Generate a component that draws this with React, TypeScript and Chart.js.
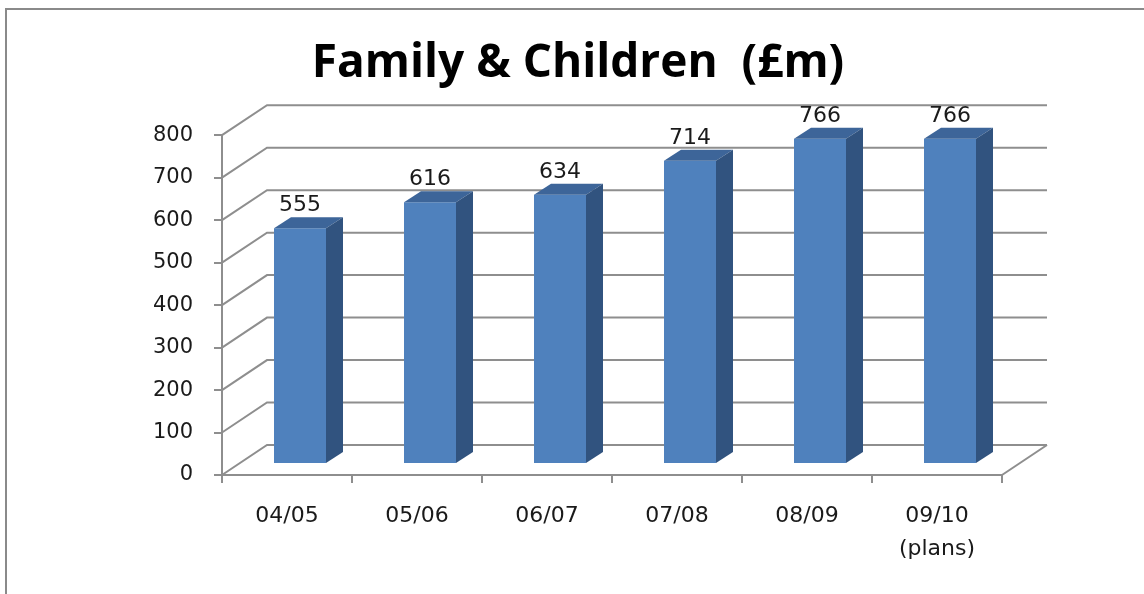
import React, { useEffect, useRef } from "react";
import { Chart, registerables } from "chart.js";

Chart.register(...registerables);

// ---- data ----
const categories: string[][] = [["04/05"], ["05/06"], ["06/07"], ["07/08"], ["08/09"], ["09/10", "(plans)"]];
const values: number[] = [555, 616, 634, 714, 766, 766];
const yMin = 0;
const yMax = 800;
const yStep = 100;
const titleText = "Family & Children  (£m)";

// ---- styles ----
const GRID = "#8e8e8e";
const TEXT = "#1a1a1a";
const BAR_FRONT = "#4f81bd";
const BAR_TOP = "#3d6599";
const BAR_SIDE = "#31537f";
const WALL_DX = 45;
const WALL_DY = -30;
const BAR_DX = 13;
const BAR_DY = -11;
const DEPTH_DX = 17;
const DEPTH_DY = -11;

const threeD = {
  id: "threeD",
  beforeDraw(chart: any) {
    const { ctx } = chart;
    ctx.save();
    ctx.strokeStyle = "#8a8a8a";
    ctx.lineWidth = 2;
    ctx.strokeRect(6, 9, 3000, 3000);
    ctx.restore();
  },
  beforeDatasetsDraw(chart: any) {
    const { ctx, chartArea, scales } = chart;
    const y = scales.y;
    ctx.save();
    ctx.strokeStyle = GRID;
    ctx.lineWidth = 2;
    y.ticks.forEach((t: any) => {
      const py = y.getPixelForValue(t.value);
      ctx.beginPath();
      ctx.moveTo(chartArea.left, py);
      ctx.lineTo(chartArea.left + WALL_DX, py + WALL_DY);
      ctx.lineTo(chartArea.right + WALL_DX, py + WALL_DY);
      ctx.stroke();
    });
    const pb = y.getPixelForValue(yMin);
    ctx.beginPath();
    ctx.moveTo(chartArea.right, pb);
    ctx.lineTo(chartArea.right + WALL_DX, pb + WALL_DY);
    ctx.stroke();
    ctx.restore();
    ctx.save();
    ctx.translate(BAR_DX, BAR_DY);
  },
  afterDatasetsDraw(chart: any) {
    const { ctx } = chart;
    const meta = chart.getDatasetMeta(0);
    meta.data.forEach((bar: any, i: number) => {
      const { x, y, base, width } = bar.getProps(["x", "y", "base", "width"], true);
      const l = x - width / 2;
      const r = x + width / 2;
      ctx.fillStyle = BAR_TOP;
      ctx.beginPath();
      ctx.moveTo(l, y);
      ctx.lineTo(l + DEPTH_DX, y + DEPTH_DY);
      ctx.lineTo(r + DEPTH_DX, y + DEPTH_DY);
      ctx.lineTo(r, y);
      ctx.closePath();
      ctx.fill();
      ctx.fillStyle = BAR_SIDE;
      ctx.beginPath();
      ctx.moveTo(r, y);
      ctx.lineTo(r + DEPTH_DX, y + DEPTH_DY);
      ctx.lineTo(r + DEPTH_DX, base + DEPTH_DY);
      ctx.lineTo(r, base);
      ctx.closePath();
      ctx.fill();
      ctx.fillStyle = TEXT;
      ctx.font = "22px 'DejaVu Sans'";
      ctx.textAlign = "center";
      ctx.textBaseline = "alphabetic";
      ctx.fillText(String(values[i]), x, y - 17);
    });
    ctx.restore();
  },
};

export default function App() {
  const ref = useRef<HTMLCanvasElement | null>(null);
  useEffect(() => {
    if (!ref.current) return;
    const chart = new Chart(ref.current, {
      type: "bar",
      data: {
        labels: categories,
        datasets: [
          {
            data: values,
            backgroundColor: BAR_FRONT,
            borderWidth: 0,
            categoryPercentage: 1,
            barPercentage: 0.4,
          },
        ],
      },
      options: {
        responsive: false,
        animation: false,
        devicePixelRatio: 1,
        layout: { padding: { top: 0, left: 154, right: 142, bottom: 0 } },
        plugins: {
          legend: { display: false },
          tooltip: { enabled: false },
          title: {
            display: true,
            text: titleText,
            color: "#000",
            font: { family: "'Open Sans'", size: 46, weight: "bold", lineHeight: 1.2 },
            padding: { top: 36, bottom: 44 },
          },
        },
        scales: {
          x: {
            afterFit: (s: any) => {
              s.height = 119;
            },
            grid: {
              offset: true,
              drawOnChartArea: false,
              drawTicks: true,
              tickLength: 8,
              color: GRID,
              lineWidth: 2,
            },
            border: { display: true, color: GRID, width: 2 },
            ticks: {
              color: TEXT,
              padding: 17,
              maxRotation: 0,
              autoSkip: false,
              font: { family: "'DejaVu Sans'", size: 22, lineHeight: 1.5 },
            },
          },
          y: {
            min: yMin,
            max: yMax,
            afterFit: (s: any) => {
              s.width = 68;
            },
            grid: {
              drawOnChartArea: false,
              drawTicks: true,
              tickLength: 8,
              color: GRID,
              lineWidth: 2,
            },
            border: { display: true, color: GRID, width: 2 },
            ticks: {
              stepSize: yStep,
              color: TEXT,
              padding: 21,
              font: { family: "'DejaVu Sans'", size: 21 },
            },
          },
        },
      },
      plugins: [threeD],
    });
    return () => chart.destroy();
  }, []);
  return (
    <div style={{ position: "fixed", left: 0, top: 0, width: 1144, height: 594, background: "#fff" }}>
      <canvas ref={ref} width={1144} height={594} style={{ display: "block" }} />
    </div>
  );
}
